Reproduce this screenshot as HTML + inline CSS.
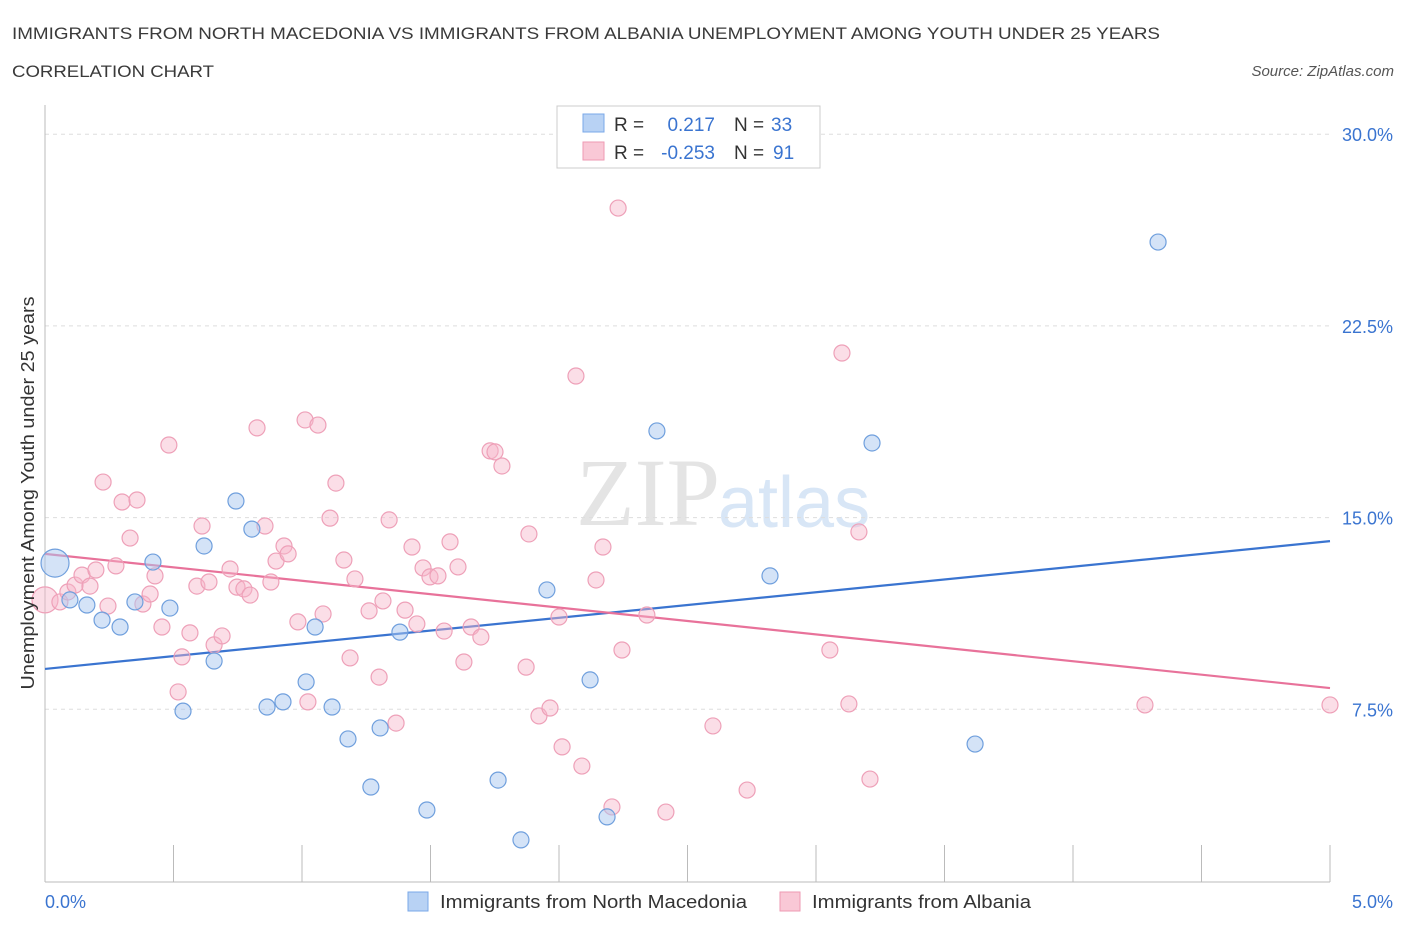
<!DOCTYPE html>
<html><head><meta charset="utf-8"><style>
body{margin:0;background:#fff;font-family:"Liberation Sans",sans-serif;}
svg{display:block}
</style></head><body>
<svg id="chart" width="1406" height="930" xmlns="http://www.w3.org/2000/svg">
<text x="12" y="39" font-size="17" fill="#3a3a3a" textLength="1148" lengthAdjust="spacingAndGlyphs">IMMIGRANTS FROM NORTH MACEDONIA VS IMMIGRANTS FROM ALBANIA UNEMPLOYMENT AMONG YOUTH UNDER 25 YEARS</text>
<text x="12" y="77" font-size="17" fill="#3a3a3a" textLength="202" lengthAdjust="spacingAndGlyphs">CORRELATION CHART</text>
<text x="1394" y="76" font-size="15" fill="#555" font-style="italic" text-anchor="end">Source: ZipAtlas.com</text>
<text x="720" y="525" font-size="96" text-anchor="end" fill="#e4e4e4" font-family="Liberation Serif">ZIP</text>
<text x="718" y="527" font-size="72" fill="#d8e6f6">atlas</text>
<g id="grid"></g><g id="axes"></g><g id="lines"></g><g id="pts"></g>
<text transform="translate(34,493) rotate(-90)" font-size="18" fill="#333" text-anchor="middle" textLength="393" lengthAdjust="spacingAndGlyphs">Unemployment Among Youth under 25 years</text>
<text x="45" y="908" font-size="18" fill="#3a74d0">0.0%</text>
<text x="1393" y="908" font-size="18" fill="#3a74d0" text-anchor="end">5.0%</text>
<g>
<rect x="557" y="106" width="263" height="62" fill="#fff" stroke="#ccc"/>
<rect x="583" y="114" width="21" height="18" fill="#b8d2f4" stroke="#7aa8e8"/>
<rect x="583" y="142" width="21" height="18" fill="#f9c8d6" stroke="#ee9ab3"/>
<text x="614" y="131" font-size="19" fill="#333">R =</text>
<text x="715" y="131" font-size="19" fill="#3a74d0" text-anchor="end">0.217</text>
<text x="734" y="131" font-size="19" fill="#333">N =</text>
<text x="771" y="131" font-size="19" fill="#3a74d0">33</text>
<text x="614" y="159" font-size="19" fill="#333">R =</text>
<text x="715" y="159" font-size="19" fill="#3a74d0" text-anchor="end">-0.253</text>
<text x="734" y="159" font-size="19" fill="#333">N =</text>
<text x="773" y="159" font-size="19" fill="#3a74d0">91</text>
</g>
<g>
<rect x="408" y="892" width="20" height="19" fill="#b8d2f4" stroke="#7aa8e8"/>
<text x="440" y="908" font-size="18" fill="#333" textLength="307" lengthAdjust="spacingAndGlyphs">Immigrants from North Macedonia</text>
<rect x="780" y="892" width="20" height="19" fill="#f9c8d6" stroke="#ee9ab3"/>
<text x="812" y="908" font-size="18" fill="#333" textLength="219" lengthAdjust="spacingAndGlyphs">Immigrants from Albania</text>
</g>
</svg>
<script>
const yTicks=[7.5,15,22.5,30];
const yTickLabels=["7.5%","15.0%","22.5%","30.0%"];
const xTicks=[0,0.5,1,1.5,2,2.5,3,3.5,4,4.5,5];
const blueX=[0.039,0.097,0.163,0.222,0.292,0.350,0.420,0.486,0.537,0.619,0.658,0.743,0.805,0.864,0.926,1.016,1.051,1.117,1.179,1.268,1.304,1.381,1.486,1.763,1.852,1.953,2.121,2.187,2.381,2.821,3.218,3.619,4.331];
const blueY=[13.22,11.78,11.58,10.99,10.72,11.70,13.26,11.46,7.43,13.89,9.39,15.65,14.55,7.59,7.79,8.57,10.72,7.59,6.34,4.46,6.77,10.52,3.56,4.73,2.39,12.17,8.65,3.29,18.39,12.72,17.92,6.14,25.78];
const pinkX=[0,.058,.089,.117,.144,.175,.198,.226,.245,.276,.300,.331,.358,.381,.409,.428,.455,.482,.533,.518,.564,.591,.611,.638,.658,.689,.720,.747,.774,.798,.825,.856,.879,.899,.930,.946,.984,1.012,1.023,1.062,1.082,1.109,1.132,1.163,1.187,1.206,1.261,1.300,1.315,1.339,1.366,1.401,1.428,1.447,1.471,1.498,1.529,1.553,1.576,1.607,1.630,1.658,1.696,1.732,1.751,1.778,1.872,1.883,1.922,1.965,2.012,2.066,2.089,2.144,2.171,2.206,2.230,2.245,2.342,2.416,2.599,2.732,3.054,3.101,3.128,3.167,3.210,4.280,5.0,2.0];
const pinkY=[11.78,11.70,12.09,12.36,12.75,12.32,12.95,16.39,11.54,13.11,15.61,14.20,15.69,11.62,12.01,12.72,10.72,17.84,9.55,8.18,10.49,12.32,14.67,12.48,10.02,10.37,12.99,12.28,12.21,11.97,18.51,14.67,12.48,13.30,13.89,13.58,10.92,18.82,7.79,18.62,11.23,14.98,16.35,13.34,9.51,12.60,11.35,8.76,11.74,14.91,6.96,11.38,13.85,10.84,13.03,12.68,12.72,10.56,14.05,13.07,9.35,10.72,10.33,17.61,17.57,17.02,9.15,14.36,7.24,7.55,6.03,20.54,5.28,12.56,13.85,3.68,27.11,9.82,11.19,3.48,6.85,4.34,9.82,21.44,7.71,14.44,4.77,7.67,7.67,11.11];
const blueTrend=[9.08,14.08];
const pinkTrend=[13.58,8.33];
const NS="http://www.w3.org/2000/svg";
const X=v=>45+v/5*1285;
const Y=v=>901-v*25.56;
function mk(tag,attrs,parent){const e=document.createElementNS(NS,tag);for(const k in attrs)e.setAttribute(k,attrs[k]);document.getElementById(parent).appendChild(e);return e;}
yTicks.forEach((t,i)=>{
 const l=mk('line',{x1:45,x2:1330,y1:Y(t),y2:Y(t),stroke:'#ddd','stroke-dasharray':'4,4'},'grid');
 
 
 const tx=mk('text',{x:1393,y:Y(t)+7,'font-size':18,fill:'#3a74d0','text-anchor':'end'},'grid');
 tx.textContent=yTickLabels[i];
 
 
});
const ax=mk('line',{x1:45,x2:45,y1:105,y2:882,stroke:'#bbb'},'axes');


const bx=mk('line',{x1:45,x2:1330,y1:882,y2:882,stroke:'#bbb'},'axes');


xTicks.forEach(t=>{const l=mk('line',{x1:X(t),x2:X(t),y1:845,y2:882,stroke:'#bbb'},'axes');
 
 });
const bl=mk('line',{x1:X(0),y1:Y(blueTrend[0]),x2:X(5),y2:Y(blueTrend[1]),stroke:'#3a74d0','stroke-width':2.2},'lines');


const pl=mk('line',{x1:X(0),y1:Y(pinkTrend[0]),x2:X(5),y2:Y(pinkTrend[1]),stroke:'#e8729a','stroke-width':2.2},'lines');


pinkX.forEach((x,i)=>{const c=mk('circle',{cx:X(x),cy:Y(pinkY[i]),r:i==0?13:8,fill:'rgba(247,182,202,0.45)',stroke:'#eea0b8','stroke-width':1.2},'pts');
 
 });
blueX.forEach((x,i)=>{const c=mk('circle',{cx:X(x),cy:Y(blueY[i]),r:i==0?14:8,fill:'rgba(170,200,240,0.5)',stroke:'#6f9fdd','stroke-width':1.2},'pts');
 
 });
</script>
</body></html>
